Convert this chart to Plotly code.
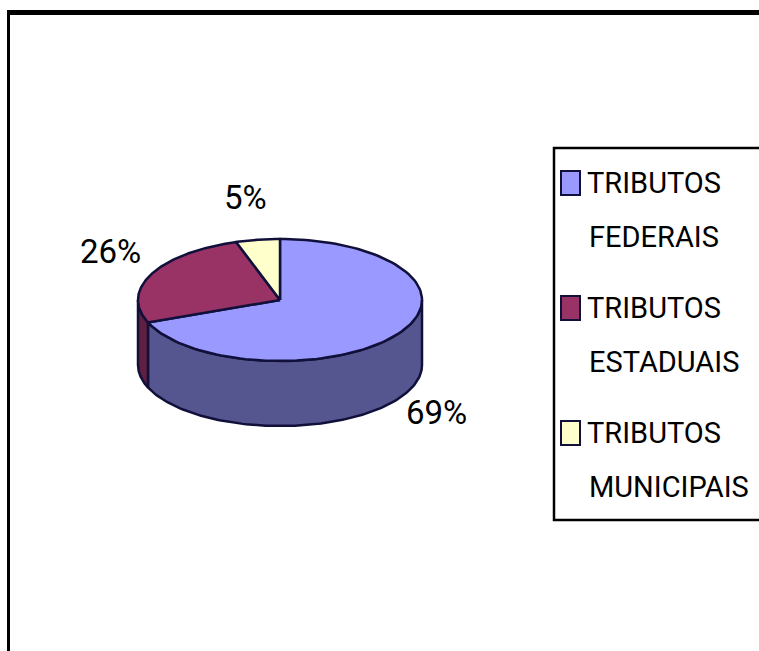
import numpy as np
import plotly.graph_objects as go

# Distribution of tax revenue by level of government
categories = ["TRIBUTOS FEDERAIS", "TRIBUTOS ESTADUAIS", "TRIBUTOS MUNICIPAIS"]
shares = [69, 26, 5]

top_colors = ["#9999FF", "#993366", "#FFFFCC"]
side_colors = ["#55558F", "#5E1F40", "#B0B08A"]
edge_color = "#10103A"

W, H = 759, 651
FONT = "Roboto, Liberation Sans, Arial, sans-serif"

# geometry of the tilted pie (pixel space)
cx, cy = 280.0, 300.0
rx, ry = 142.0, 61.0
depth = 65.0


def rim(a0, a1, dy=0.0, n=120):
    """Points along the elliptical rim, angles clockwise from 12 o'clock."""
    t = np.radians(np.linspace(a0, a1, n))
    return cx + rx * np.sin(t), cy - ry * np.cos(t) + dy


fig = go.Figure()

# cumulative angles, first slice starts at 12 o'clock going clockwise
fractions = np.array(shares, dtype=float) / sum(shares)
ends = np.cumsum(fractions) * 360.0
starts = ends - fractions * 360.0

# side walls (visible front half: 90..270 degrees)
for s, e, col in zip(starts, ends, side_colors):
    a0, a1 = max(s, 90.0), min(e, 270.0)
    if a1 <= a0:
        continue
    xt, yt = rim(a0, a1)
    xb, yb = rim(a1, a0, dy=depth)
    fig.add_trace(go.Scatter(
        x=np.concatenate([xt, xb, xt[:1]]),
        y=np.concatenate([yt, yb, yt[:1]]),
        mode="lines", fill="toself", fillcolor=col,
        line=dict(color=edge_color, width=2.5),
        hoverinfo="skip", showlegend=False,
    ))

# top faces
for s, e, col in zip(starts, ends, top_colors):
    xs, ys = rim(s, e)
    fig.add_trace(go.Scatter(
        x=np.concatenate([[cx], xs, [cx]]),
        y=np.concatenate([[cy], ys, [cy]]),
        mode="lines", fill="toself", fillcolor=col,
        line=dict(color=edge_color, width=2.5),
        hoverinfo="skip", showlegend=False,
    ))

# percentage labels
label_pos = [(436, 412), (110, 251), (245, 197)]
for v, (lx, ly) in zip(shares, label_pos):
    fig.add_annotation(x=lx, y=ly, text=f"{v}%", showarrow=False,
                       xanchor="center", yanchor="middle",
                       font=dict(family=FONT, size=33, color="black"))

# outer frame
fig.add_shape(type="line", x0=7, x1=W, y0=12.5, y1=12.5,
              line=dict(color="black", width=5))
fig.add_shape(type="line", x0=8.5, x1=8.5, y0=10, y1=H,
              line=dict(color="black", width=3))

# legend box
fig.add_shape(type="rect", x0=554, x1=W + 5, y0=148, y1=520,
              line=dict(color="black", width=2.5), fillcolor="white")

entry_top = 183
entry_step = 125
line_gap = 54
for i, (name, col) in enumerate(zip(categories, top_colors)):
    y1 = entry_top + i * entry_step
    fig.add_shape(type="rect", x0=561, x1=580, y0=y1 - 12, y1=y1 + 12,
                  line=dict(color=edge_color, width=2), fillcolor=col)
    first, second = name.split(" ", 1)
    fig.add_annotation(x=585, y=y1, text=first, showarrow=False,
                       xanchor="left", yanchor="middle",
                       font=dict(family=FONT, size=29, color="black"))
    fig.add_annotation(x=587, y=y1 + line_gap, text=second, showarrow=False,
                       xanchor="left", yanchor="middle",
                       font=dict(family=FONT, size=29, color="black"))

fig.update_layout(
    width=W, height=H, autosize=False,
    margin=dict(l=0, r=0, t=0, b=0),
    paper_bgcolor="white", plot_bgcolor="white",
    xaxis=dict(range=[0, W], visible=False, fixedrange=True),
    yaxis=dict(range=[H, 0], visible=False, fixedrange=True),
)

fig.write_html("out.html")
